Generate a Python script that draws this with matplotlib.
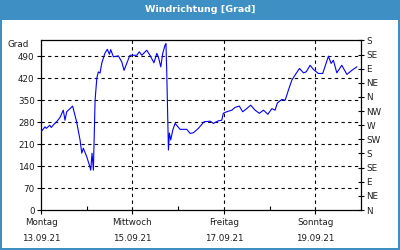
import matplotlib
matplotlib.use("Agg")
import matplotlib.pyplot as plt
from matplotlib.patches import Rectangle

title = "Windrichtung [Grad]"
y_label = "Grad"
# time in hours since Monday 13.09.21 00:00
hours = [0.0, 2.1, 2.8, 4.6, 5.4, 6.8, 8.2, 10.0, 11.7, 12.6,
         13.5, 16.6, 18.7, 20.5, 21.4, 22.2, 24.0, 25.4, 26.1, 26.8,
         27.5, 28.4, 29.3, 30.1, 31.0, 31.9, 33.6, 34.8, 35.9, 36.6,
         38.0, 40.6, 42.4, 43.6, 45.0, 46.7, 50.3, 51.6, 52.9, 55.5,
         57.2, 59.3, 60.8, 61.6, 62.9, 63.9, 65.1, 65.6, 66.0, 66.9,
         67.4, 68.1, 69.2, 70.4, 73.0, 76.5, 78.3, 80.0, 82.6, 85.6,
         88.8, 90.5, 93.1, 94.9, 95.7, 97.5, 100.2, 101.9, 104.1, 105.9,
         108.0, 110.1, 112.4, 114.6, 116.8, 119.1, 121.2, 122.9, 124.1, 126.4,
         128.2, 129.9, 131.7, 133.4, 135.7, 137.8, 139.2, 141.3, 143.0, 145.6,
         147.9, 150.9, 152.3, 153.5, 155.3, 157.9, 160.6, 163.2, 165.8]
degrees = [249, 265, 260, 270, 263, 273, 281, 295, 318, 286,
           313, 331, 281, 223, 181, 197, 170, 143, 127, 181,
           127, 350, 420, 440, 436, 468, 500, 512, 496, 511,
           488, 491, 472, 445, 467, 493, 493, 504, 493, 509,
           493, 469, 499, 488, 456, 499, 525, 530, 445, 191,
           245, 223, 255, 276, 257, 257, 244, 246, 260, 281,
           283, 276, 284, 286, 308, 313, 318, 327, 331, 313,
           323, 334, 318, 308, 318, 305, 323, 318, 341, 352,
           350, 382, 414, 430, 451, 437, 440, 461, 448, 435,
           435, 490, 467, 477, 437, 461, 432, 445, 456]
left_ticks = [0, 70, 140, 210, 280, 350, 420, 490]
right_ticks = list(range(0, 541, 45))
right_labels = ["N", "NE", "E", "SE", "S", "SW", "W", "NW", "N", "NE", "E", "SE", "S"]
day_ticks = [0, 48, 96, 144]
day_labels = ["Montag\n13.09.21", "Mittwoch\n15.09.21", "Freitag\n17.09.21", "Sonntag\n19.09.21"]

blue = "#3d8fc4"
txt = "#1e1e1e"
fs = 6.3

fig = plt.figure(figsize=(4, 2.5), dpi=100)
fig.patch.set_facecolor("white")
# title bar and border
fig.patches.append(Rectangle((0, 1 - 20 / 250), 1, 20 / 250, transform=fig.transFigure,
                             facecolor=blue, edgecolor="none", zorder=0))
for r in [(0, 0, 2 / 400, 1), (1 - 2 / 400, 0, 2 / 400, 1), (0, 0, 1, 2 / 250)]:
    fig.patches.append(Rectangle(r[:2], r[2], r[3], transform=fig.transFigure,
                                 facecolor=blue, edgecolor="none", zorder=0))
fig.text(0.5, 1 - 10 / 250, title, color="white", fontsize=6.8, fontweight="bold",
         ha="center", va="center")

ax = fig.add_axes([41 / 400, 40 / 250, 320 / 400, 169.5 / 250])
ax.set_facecolor("white")
ax.plot(hours, degrees, color="#0000ff", lw=0.8, zorder=3)
ax.set_xlim(0, 168)
ax.set_ylim(0, 540)

for s in ax.spines.values():
    s.set_color("black")
    s.set_linewidth(0.9)

ax.set_yticks(left_ticks)
ax.set_yticklabels([str(t) for t in left_ticks], fontsize=fs, color=txt)
ax.tick_params(axis="y", direction="out", length=3, width=0.8, pad=1.5, color="black")
for t in left_ticks[1:]:
    ax.axhline(t, color="black", lw=0.8, ls=(0, (3, 3)), zorder=1)

ax.set_xticks(day_ticks)
ax.set_xticklabels(day_labels, fontsize=fs, color=txt, linespacing=1.9)
ax.set_xticks(range(24, 168, 48), minor=True)
ax.tick_params(axis="x", which="major", direction="out", length=3, width=0.8, pad=3)
ax.tick_params(axis="x", which="minor", direction="in", length=3, width=0.8)
for t in day_ticks[1:]:
    ax.axvline(t, color="black", lw=0.8, ls=(0, (3, 3)), zorder=1)

ax2 = ax.twinx()
ax2.set_ylim(0, 540)
ax2.set_yticks(right_ticks)
ax2.set_yticklabels(right_labels, fontsize=fs, color=txt)
ax2.tick_params(axis="y", direction="inout", length=5, width=0.8, pad=1.5)
for s in ax2.spines.values():
    s.set_visible(False)

fig.text(8 / 400, 1 - 45 / 250, y_label, fontsize=fs, color=txt, ha="left", va="center")

fig.savefig("out.png", dpi=100, facecolor=fig.get_facecolor())
